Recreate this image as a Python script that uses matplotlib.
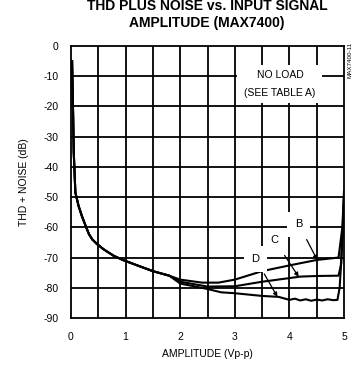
import matplotlib
matplotlib.use("Agg")
import matplotlib.pyplot as plt
from matplotlib.patches import Rectangle

FONT = ["Liberation Sans Narrow", "Liberation Sans", "DejaVu Sans"]
plt.rcParams["font.family"] = FONT

# Shared low-amplitude part of all curves (Vp-p, dB)
x_common = [0.02, 0.04, 0.05, 0.08, 0.14, 0.2, 0.27, 0.33, 0.39, 0.48, 0.6, 0.78,
            0.95, 1.2, 1.5, 1.8]
y_common = [-5, -24, -35, -48.5, -53, -56.3, -59.6, -62.3, -64, -65.6, -67.3, -69.4,
            -70.8, -72.5, -74.5, -76]

# Curve B
x_b = [2.0, 2.4, 2.7, 3.0, 3.5, 4.0, 4.5, 4.9, 4.97, 5.0]
y_b = [-77.3, -78.3, -78.3, -77.3, -74.5, -72.6, -70.8, -70.0, -60, -48]

# Curve C
x_c = [2.0, 2.5, 3.0, 3.5, 4.0, 4.2, 4.5, 4.9, 4.95, 4.98, 5.0]
y_c = [-78.0, -79.6, -79.5, -78.0, -76.8, -76.3, -76.1, -76.0, -72, -60, -50]

# Curve D
x_d = [2.0, 2.5, 2.75, 3.0, 3.5, 3.8, 4.0, 4.1, 4.2, 4.3, 4.4, 4.5, 4.6, 4.7, 4.8,
       4.88, 4.92, 4.94, 4.97, 5.0]
y_d = [-78.6, -80.4, -81.5, -81.8, -82.7, -83.0, -84.0, -83.6, -84.2, -83.8, -84.3,
       -83.9, -84.2, -83.8, -84.1, -84.0, -80, -74, -62, -50]

# Curve labels: (name, text position, pointed-at amplitude)
labels = ["B", "C", "D"]
label_xy = [(4.17, -59.0), (3.73, -64.3), (3.38, -70.4)]
label_tip_x = [4.51, 4.17, 3.78]

x_ticks = [0, 1, 2, 3, 4, 5]
y_ticks = [0, -10, -20, -30, -40, -50, -60, -70, -80, -90]

fig = plt.figure(figsize=(3.55, 3.71), dpi=100)
ax = fig.add_axes([71 / 355, 1 - 318 / 371, (344 - 71) / 355, (318 - 46) / 371])

ax.set_xlim(0, 5)
ax.set_ylim(-90, 0)

# grid every 0.5 V and 10 dB
for gx in [i * 0.5 for i in range(1, 10)]:
    ax.axvline(gx, color="black", lw=1.3, zorder=1)
for gy in range(-80, 0, 10):
    ax.axhline(gy, color="black", lw=1.3, zorder=1)
for s in ax.spines.values():
    s.set_linewidth(1.3)

curves = {"B": (x_b, y_b), "C": (x_c, y_c), "D": (x_d, y_d)}
for name, (xs, ys) in curves.items():
    ax.plot(x_common + xs, y_common + ys, color="black", lw=1.5, zorder=3,
            solid_joinstyle="round")

def interp(xs, ys, x0):
    for i in range(len(xs) - 1):
        if xs[i] <= x0 <= xs[i + 1]:
            t = (x0 - xs[i]) / (xs[i + 1] - xs[i])
            return ys[i] + t * (ys[i + 1] - ys[i])
    return ys[-1]

for name, (tx, ty), px in zip(labels, label_xy, label_tip_x):
    xs, ys = curves[name]
    py = interp(xs, ys, px)
    ax.annotate(name, xy=(px, py), xytext=(tx, ty), ha="center", va="center",
                fontsize=8, zorder=5,
                bbox=dict(boxstyle="square,pad=0.7", fc="white", ec="none"),
                arrowprops=dict(arrowstyle="-|>", color="black", lw=0.9,
                                mutation_scale=6, shrinkA=2, shrinkB=0))

# note box
ax.add_patch(Rectangle((3.04, -18.9), 1.56, 12.5, fc="white", ec="none", zorder=4))
ax.text(3.84, -9.6, "NO LOAD", ha="center", va="center", fontsize=7.5, zorder=5)
ax.text(3.82, -15.6, "(SEE TABLE A)", ha="center", va="center", fontsize=7.5, zorder=5)

ax.set_xticks(x_ticks)
ax.set_xticklabels([str(v) for v in x_ticks])
ax.set_yticks(y_ticks)
ax.set_yticklabels(["0"] + [f"-{abs(v)}" for v in y_ticks[1:]])
ax.tick_params(length=0, labelsize=7.5, pad=9)
ax.tick_params(axis="x", pad=10)

ax.set_xlabel("AMPLITUDE (Vp-p)", fontsize=7.5, labelpad=5)
ax.set_ylabel("THD + NOISE (dB)", fontsize=7.5, labelpad=10)

fig.text(207 / 355, 1 - 6.5 / 371, "THD PLUS NOISE vs. INPUT SIGNAL", ha="center",
         va="center", fontsize=10, fontweight="bold")
fig.text(207 / 355, 1 - 22.5 / 371, "AMPLITUDE (MAX7400)", ha="center",
         va="center", fontsize=10, fontweight="bold")
fig.text(350 / 355, 1 - 60 / 371, "MAX7400-11", ha="center", va="center",
         fontsize=4.5, rotation=90)

fig.savefig("out.png", dpi=100)
